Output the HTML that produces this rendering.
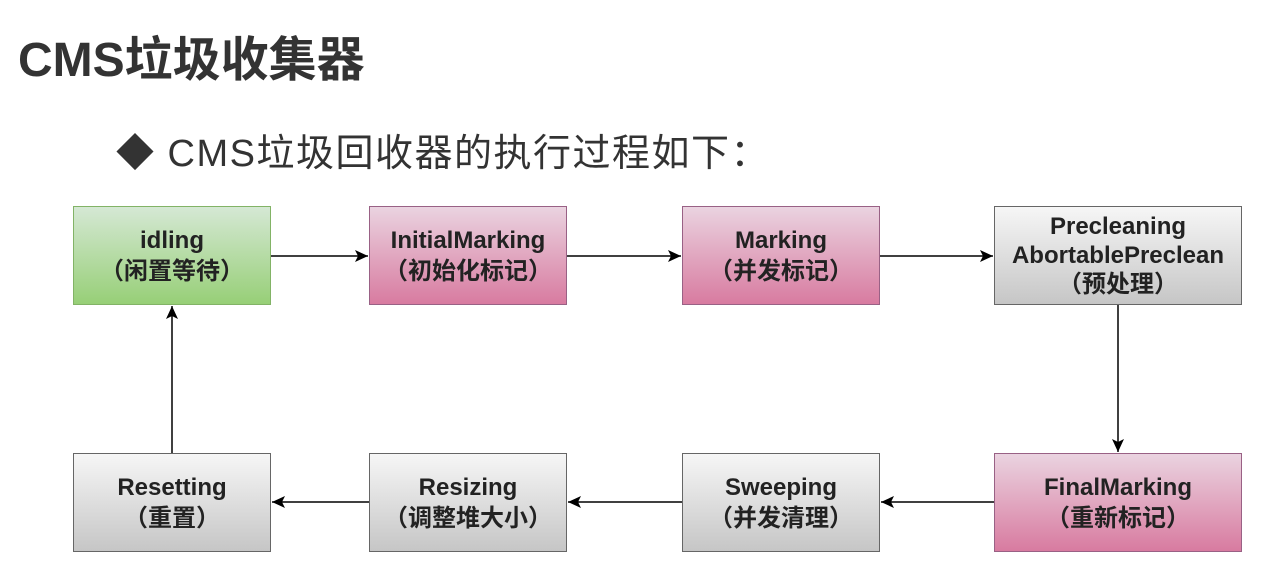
<!DOCTYPE html><html><head><meta charset="utf-8"><style>
body{margin:0;width:1281px;height:565px;background:#fff;position:relative;overflow:hidden;font-family:"Liberation Sans","Noto Sans CJK SC",sans-serif}
.t{position:absolute;left:18px;top:20px;font-size:48px;font-weight:bold;color:#333;letter-spacing:0px}
.b{position:absolute;left:116px;top:122px;font-size:38px;color:#333;letter-spacing:1.5px}
.n{position:absolute;width:198px;height:99px;box-sizing:border-box;border:1.5px solid #888;display:flex;flex-direction:column;justify-content:center;align-items:center;font-size:24px;font-weight:bold;color:#222;line-height:31px;text-align:center}
.g{background:linear-gradient(#d5e8d4,#97cf77);border-color:#82b366}
.p{background:linear-gradient(#ead3e0,#d87ba0);border-color:#996185}
.s{background:linear-gradient(#f6f6f6,#c6c6c6);border-color:#666}
svg{position:absolute;left:0;top:0}
</style></head><body>
<div class="t">CMS垃圾收集器</div>
<div class="b">◆ CMS垃圾回收器的执行过程如下：</div>
<div class="n g" style="left:73px;top:206px">idling<span>（闲置等待）</span></div>
<div class="n p" style="left:369px;top:206px">InitialMarking<span>（初始化标记）</span></div>
<div class="n p" style="left:682px;top:206px">Marking<span>（并发标记）</span></div>
<div class="n s" style="left:994px;top:206px;width:248px;line-height:29px">Precleaning<span>AbortablePreclean</span><span>（预处理）</span></div>
<div class="n s" style="left:73px;top:453px">Resetting<span>（重置）</span></div>
<div class="n s" style="left:369px;top:453px">Resizing<span>（调整堆大小）</span></div>
<div class="n s" style="left:682px;top:453px">Sweeping<span>（并发清理）</span></div>
<div class="n p" style="left:994px;top:453px;width:248px">FinalMarking<span>（重新标记）</span></div>
<svg width="1281" height="565"><defs><marker id="a" markerWidth="14" markerHeight="14" refX="13" refY="6" orient="auto" markerUnits="userSpaceOnUse"><path d="M0,0L13,6L0,12L3,6z" fill="#000"/></marker></defs>
<g stroke="#000" stroke-width="1.5" fill="none" marker-end="url(#a)">
<path d="M271,256H368"/><path d="M567,256H681"/><path d="M880,256H993"/>
<path d="M1118,305V452"/><path d="M994,502H881"/><path d="M682,502H568"/><path d="M369,502H272"/><path d="M172,453V306"/>
</g></svg>
</body></html>
